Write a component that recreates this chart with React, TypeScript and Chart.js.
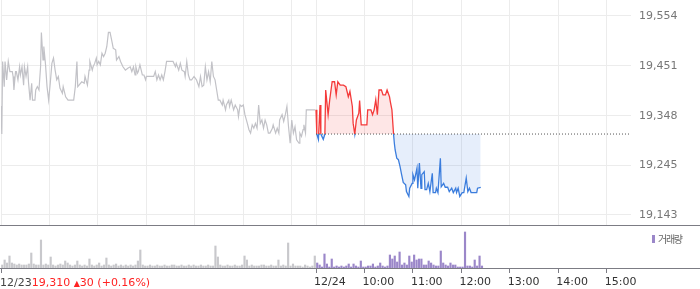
import React, { useEffect, useRef } from 'react';
import { Chart, registerables } from 'chart.js';

Chart.register(...registerables);

// ---- data ----
const PREV_DATE = '12/23';
const PREV_CLOSE = 19310;
const PREV_CHANGE = 30;
const PREV_CHANGE_PCT = 0.16;

const PRICE_MIN = 19122;
const PRICE_MAX = 19587;
const yTickValues = [19143, 19245, 19348, 19451, 19554];

const SESSION_MINUTES = 390; // 09:00 - 15:30
const gridMinutes = [0, 60, 120, 180, 240, 300, 360, 390, 450, 510, 570, 630, 690, 750];
const axisTickMinutes = [0, 390, 450, 510, 570, 630, 690, 750];
const axisTickLabels = ['', '12/24', '10:00', '11:00', '12:00', '13:00', '14:00', '15:00'];

// previous day (12/23): minutes after 09:00 and price
const prevMinutes = [
  0, 1, 2, 4, 5, 7, 9, 11, 14, 15,
  16, 18, 19, 21, 23, 24, 26, 28, 29, 31,
  33, 34, 36, 38, 39, 42, 43, 45, 47, 49,
  50, 52, 53, 55, 57, 59, 61, 63, 65, 67,
  69, 71, 73, 76, 77, 80, 83, 90, 92, 94,
  95, 100, 103, 104, 107, 109, 110, 113, 114, 116,
  118, 119, 121, 123, 125, 127, 129, 131, 133, 135,
  137, 139, 142, 143, 146, 148, 151, 154, 157, 160,
  162, 164, 166, 167, 169, 170, 172, 175, 177, 179,
  180, 189, 191, 193, 195, 197, 199, 201, 203, 205,
  213, 216, 217, 220, 222, 224, 227, 228, 230, 232,
  234, 236, 239, 242, 245, 247, 249, 251, 253, 255,
  257, 259, 261, 263, 265, 267, 269, 271, 274, 275,
  278, 279, 282, 283, 285, 288, 290, 293, 294, 296,
  298, 300, 302, 305, 307, 309, 311, 313, 315, 317,
  319, 321, 323, 325, 327, 329, 331, 333, 336, 337,
  340, 342, 344, 345, 348, 350, 352, 354, 356, 358,
  360, 362, 364, 366, 369, 370, 372, 374, 375, 377,
  378, 389,
];
const prevPrices = [
  19368, 19310, 19460, 19408, 19460, 19422, 19460, 19439, 19439, 19429,
  19401, 19439, 19439, 19422, 19449, 19432, 19449, 19411, 19449, 19429,
  19449, 19418, 19380, 19415, 19380, 19380, 19401, 19408, 19401, 19449,
  19520, 19463, 19491, 19456, 19408, 19380, 19415, 19456, 19467, 19442,
  19422, 19429, 19405, 19394, 19408, 19387, 19380, 19380, 19408, 19460,
  19408, 19418, 19415, 19429, 19411, 19442, 19460, 19442, 19449, 19456,
  19467, 19453, 19460, 19453, 19477, 19470, 19477, 19491, 19520, 19520,
  19504, 19487, 19484, 19463, 19470, 19460, 19449, 19442, 19446, 19449,
  19439, 19449, 19432, 19449, 19436, 19439, 19453, 19432, 19432, 19422,
  19429, 19429, 19439, 19422, 19432, 19422, 19432, 19422, 19439, 19460,
  19460, 19449, 19456, 19442, 19456, 19442, 19439, 19429, 19460, 19432,
  19422, 19422, 19429, 19422, 19408, 19429, 19408, 19411, 19449, 19422,
  19439, 19418, 19460, 19429, 19422, 19401, 19380, 19380, 19370, 19380,
  19360, 19370, 19380, 19367, 19380, 19360, 19370, 19360, 19346, 19370,
  19367, 19370, 19350, 19332, 19319, 19312, 19329, 19322, 19332, 19322,
  19370, 19332, 19339, 19322, 19339, 19329, 19312, 19312, 19322, 19329,
  19312, 19322, 19312, 19339, 19350, 19336, 19350, 19367, 19325, 19291,
  19339, 19312, 19325, 19298, 19291, 19312, 19305, 19319, 19329, 19312,
  19360, 19360,
];

// today (12/24): minutes after 09:00 and price
const todayMinutes = [
  0, 1, 3, 5, 6, 9, 11, 12, 15, 17,
  20, 23, 25, 27, 30, 34, 37, 40, 42, 45,
  46, 48, 50, 53, 54, 56, 63, 64, 68, 70,
  72, 74, 76, 78, 81, 83, 86, 88, 91, 92,
  94, 96, 97, 98, 100, 102, 104, 106, 108, 111,
  112, 115, 116, 119, 120, 122, 125, 126, 128, 130,
  131, 134, 135, 137, 139, 141, 144, 145, 148, 149,
  151, 154, 155, 158, 160, 163, 165, 168, 170, 173,
  174, 176, 178, 181, 183, 186, 188, 190, 192, 199,
  200, 204,
];
const todayPrices = [
  19360, 19310, 19299, 19370, 19310, 19299, 19310, 19401, 19350, 19381,
  19418, 19418, 19391, 19418, 19411, 19411, 19408, 19387, 19398, 19367,
  19332, 19310, 19339, 19353, 19379, 19329, 19329, 19360, 19360, 19350,
  19360, 19381, 19350, 19401, 19401, 19391, 19391, 19401, 19387, 19377,
  19360, 19310, 19291, 19277, 19260, 19257, 19243, 19226, 19210, 19205,
  19191, 19181, 19198, 19208, 19226, 19215, 19239, 19198, 19250, 19198,
  19226, 19232, 19195, 19195, 19208, 19191, 19229, 19189, 19189, 19198,
  19189, 19260, 19201, 19208, 19200, 19200, 19191, 19198, 19189, 19198,
  19189, 19198, 19181, 19189, 19189, 19219, 19191, 19198, 19189, 19189,
  19198, 19200,
];

// volume per 3-minute bucket (relative units)
const VOLUME_BUCKET_MIN = 3;
const prevVolume = [
  3, 8, 5, 12, 5, 4, 3, 4, 3, 3,
  3, 4, 15, 4, 3, 3, 28, 3, 4, 3,
  11, 3, 2, 3, 4, 3, 7, 5, 3, 2,
  3, 7, 3, 2, 3, 2, 9, 3, 2, 3,
  5, 2, 3, 10, 3, 2, 3, 4, 2, 3,
  2, 3, 2, 3, 2, 3, 7, 18, 3, 2,
  2, 3, 2, 2, 3, 2, 2, 3, 2, 2,
  3, 3, 2, 2, 3, 2, 2, 3, 2, 3,
  2, 2, 3, 2, 2, 3, 2, 2, 22, 11,
  3, 2, 2, 3, 2, 2, 3, 2, 2, 3,
  12, 8, 2, 3, 2, 2, 2, 3, 3, 2,
  2, 3, 2, 2, 8, 2, 3, 2, 25, 2,
  4, 2, 2, 2, 1, 3, 2, 1, 2, 12,
];
const todayVolume = [
  5, 3, 1, 14, 4, 1, 9, 1, 2, 1,
  2, 1, 2, 4, 1, 4, 2, 1, 7, 1,
  1, 2, 2, 4, 1, 2, 5, 2, 1, 2,
  13, 9, 12, 6, 16, 3, 5, 3, 12, 6,
  13, 8, 9, 9, 3, 3, 7, 5, 3, 2,
  2, 17, 5, 3, 2, 5, 3, 3, 1, 1,
  1, 36, 2, 2, 1, 8, 2, 12, 2,
];
const VOLUME_MAX = 38;

// ---- styles ----
const FONT = '"DejaVu Sans"';
const GRID_COLOR = '#ececec';
const AXIS_COLOR = '#7c7c84';
const GRAY_LINE = '#c2c2c7';
const UP_COLOR = '#f43a3a';
const DOWN_COLOR = '#3b7ddd';
const UP_FILL = 'rgba(244, 58, 58, 0.13)';
const DOWN_FILL = 'rgba(59, 125, 221, 0.13)';
const VOL_PREV = '#c8c8cc';
const VOL_TODAY = '#9b87c9';

const panelLine = {
  id: 'panelLine',
  afterDraw(chart: any) {
    const { ctx, chartArea, width } = chart;
    ctx.save();
    ctx.strokeStyle = AXIS_COLOR;
    ctx.lineWidth = 1;
    const y = Math.round(chartArea.bottom) + 0.5;
    ctx.beginPath();
    ctx.moveTo(0, y);
    ctx.lineTo(width, y);
    ctx.stroke();
    ctx.restore();
  },
};

const noPadding = (s: any) => {
  s.paddingTop = 0;
  s.paddingBottom = 0;
  s.paddingLeft = 0;
  s.paddingRight = 0;
};

export default function App() {
  const priceRef = useRef<HTMLCanvasElement>(null);
  const volRef = useRef<HTMLCanvasElement>(null);

  useEffect(() => {
    Chart.defaults.font.family = FONT;
    const prevData = prevMinutes.map((m, i) => ({ x: m, y: prevPrices[i] }));
    const todayData = todayMinutes.map((m, i) => ({ x: SESSION_MINUTES + m, y: todayPrices[i] }));
    const baseData = [
      { x: SESSION_MINUTES, y: PREV_CLOSE },
      { x: SESSION_MINUTES * 2, y: PREV_CLOSE },
    ];

    const splitColor = (ctx: any) => {
      const chart = ctx.chart;
      const area = chart.chartArea;
      if (!area) return UP_COLOR;
      const yb = chart.scales.y.getPixelForValue(PREV_CLOSE);
      let f = (yb - area.top) / (area.bottom - area.top);
      f = Math.min(1, Math.max(0, f));
      const g = chart.ctx.createLinearGradient(0, area.top, 0, area.bottom);
      g.addColorStop(0, UP_COLOR);
      g.addColorStop(f, UP_COLOR);
      g.addColorStop(f, DOWN_COLOR);
      g.addColorStop(1, DOWN_COLOR);
      return g;
    };

    const price = new Chart(priceRef.current!, {
      type: 'line',
      data: {
        datasets: [
          {
            data: baseData,
            borderColor: '#555',
            borderWidth: 1,
            borderDash: [1, 2],
            pointRadius: 0,
            fill: false,
          },
          {
            data: todayData,
            borderColor: splitColor,
            borderWidth: 1.3,
            pointRadius: 0,
            tension: 0,
            fill: { value: PREV_CLOSE, above: UP_FILL, below: DOWN_FILL },
          },
          {
            data: prevData,
            borderColor: GRAY_LINE,
            borderWidth: 1.2,
            pointRadius: 0,
            tension: 0,
            fill: false,
          },
        ],
      },
      options: {
        responsive: false,
        animation: false,
        events: [],
        layout: { padding: { left: 1, right: 0, top: 0, bottom: 1 } },
        plugins: { legend: { display: false }, tooltip: { enabled: false } },
        scales: {
          x: {
            type: 'linear',
            min: 0,
            max: SESSION_MINUTES * 2,
            offset: false,
            afterBuildTicks: (s: any) => {
              s.ticks = gridMinutes.map((v) => ({ value: v }));
            },
            afterFit: (s: any) => {
              s.height = 0;
              noPadding(s);
            },
            grid: { color: GRID_COLOR, drawTicks: false, lineWidth: 1, offset: false },
            border: { display: false },
            ticks: { display: false },
          },
          y: {
            position: 'right',
            min: PRICE_MIN,
            max: PRICE_MAX,
            afterBuildTicks: (s: any) => {
              s.ticks = yTickValues.map((v) => ({ value: v }));
            },
            afterFit: (s: any) => {
              s.width = 69;
              noPadding(s);
            },
            grid: { color: GRID_COLOR, drawTicks: false },
            border: { display: false },
            ticks: {
              padding: 8,
              color: '#777',
              font: { size: 11, family: FONT },
              callback: (v: any) => Number(v).toLocaleString('en-US'),
            },
          },
        },
      },
      plugins: [panelLine],
    } as any);

    const prevVolData = prevVolume.map((v, i) => ({ x: i * VOLUME_BUCKET_MIN + VOLUME_BUCKET_MIN / 2, y: v }));
    const todayVolData = todayVolume.map((v, i) => ({
      x: SESSION_MINUTES + i * VOLUME_BUCKET_MIN + VOLUME_BUCKET_MIN / 2,
      y: v,
    }));

    const vol = new Chart(volRef.current!, {
      type: 'bar',
      data: {
        datasets: [
          { data: todayVolData, backgroundColor: VOL_TODAY, barThickness: 1.5, grouped: false },
          { data: prevVolData, backgroundColor: VOL_PREV, barThickness: 1.5, grouped: false },
        ],
      },
      options: {
        responsive: false,
        animation: false,
        events: [],
        layout: { padding: { left: 1, right: 69, top: 4, bottom: 0 } },
        plugins: { legend: { display: false }, tooltip: { enabled: false } },
        scales: {
          x: {
            type: 'linear',
            min: 0,
            max: SESSION_MINUTES * 2,
            offset: false,
            afterBuildTicks: (s: any) => {
              s.ticks = axisTickMinutes.map((v) => ({ value: v }));
            },
            afterFit: (s: any) => {
              s.height = 21;
              noPadding(s);
            },
            grid: {
              display: true,
              offset: false,
              drawOnChartArea: false,
              drawTicks: true,
              tickLength: 5,
              color: AXIS_COLOR,
            },
            border: { display: false },
            ticks: {
              autoSkip: false,
              maxRotation: 0,
              align: 'start',
              labelOffset: -2,
              padding: 3,
              color: '#333',
              font: { size: 11, family: FONT },
              callback: (_v: any, i: number) => axisTickLabels[i],
            },
          },
          y: {
            display: false,
            min: 0,
            max: VOLUME_MAX,
            afterFit: noPadding,
          },
        },
      },
      plugins: [panelLine],
    } as any);

    return () => {
      price.destroy();
      vol.destroy();
    };
  }, []);

  return (
    <div style={{ position: 'absolute', left: 0, top: 0, width: 700, height: 289, background: '#fff', overflow: 'hidden' }}>
      <canvas ref={priceRef} width={700} height={226} style={{ position: 'absolute', left: 0, top: 0 }} />
      <canvas ref={volRef} width={700} height={63} style={{ position: 'absolute', left: 0, top: 226 }} />
      <div
        style={{
          position: 'absolute',
          left: 0,
          top: 276,
          fontFamily: FONT,
          fontSize: 11,
          lineHeight: '13px',
          whiteSpace: 'nowrap',
        }}
      >
        <span style={{ color: '#444' }}>{PREV_DATE}</span>
        <span style={{ color: '#f22' }}>
          {PREV_CLOSE.toLocaleString('en-US')} <span style={{ fontSize: 8 }}>▲</span>
          {PREV_CHANGE} (+{PREV_CHANGE_PCT.toFixed(2)}%)
        </span>
      </div>
      <div
        style={{
          position: 'absolute',
          left: 652,
          top: 231,
          display: 'flex',
          alignItems: 'center',
          fontFamily: '"Noto Sans CJK KR"',
          fontSize: 10,
          letterSpacing: '-1.3px',
          color: '#666',
          whiteSpace: 'nowrap',
        }}
      >
        <span style={{ display: 'inline-block', width: 3, height: 8, background: VOL_TODAY, marginRight: 3 }} />
        거래량
      </div>
    </div>
  );
}
